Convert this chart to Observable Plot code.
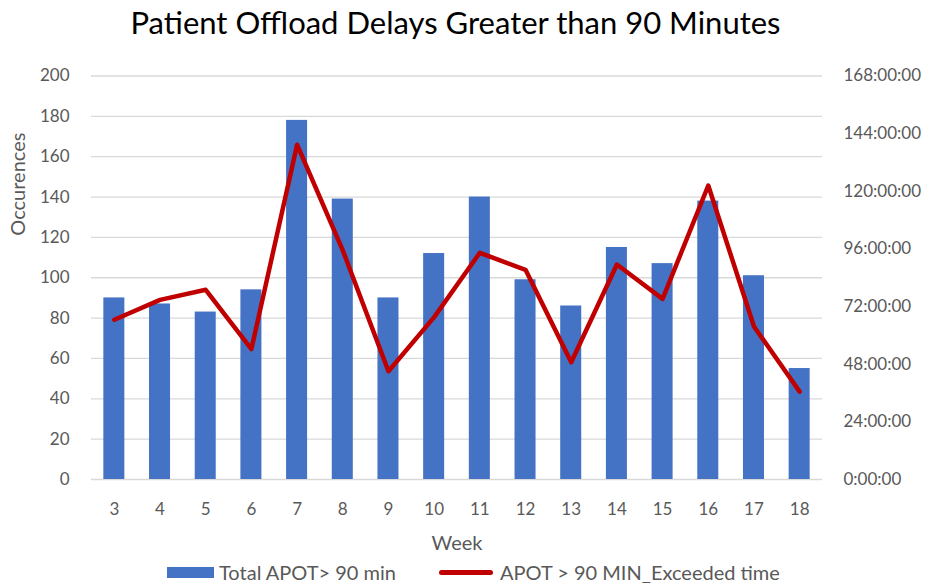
<!DOCTYPE html>
<html><head><meta charset="utf-8">
<script src="https://cdn.jsdelivr.net/npm/d3@7"></script>
<script src="https://cdn.jsdelivr.net/npm/@observablehq/plot@0.6"></script>
<style>
body{margin:0;background:#fff;font-family:Lato,sans-serif;width:935px;height:583px;overflow:hidden;}
#title{height:50px;line-height:44px;text-align:center;font-size:31px;color:#000;white-space:nowrap;padding-right:24px;}
#chart svg{display:block;}
#legend{height:21px;line-height:21px;display:flex;align-items:center;font-size:20px;color:#595959;white-space:nowrap;padding-left:167px;}
.sw-bar{display:inline-block;width:47px;height:11px;background:#4472C4;margin-right:5px;}
.sw-line{display:inline-block;width:54px;height:5px;border-radius:3px;background:#C00000;margin-right:7px;margin-left:43px;}
</style></head><body>
<div id="title">Patient Offload Delays Greater than 90 Minutes</div>
<div id="chart"></div>
<div id="legend"><span class="sw-bar"></span><span>Total APOT&gt; 90 min</span><span class="sw-line"></span><span>APOT &gt; 90 MIN_Exceeded time</span></div>
<script>
const weeks = [3,4,5,6,7,8,9,10,11,12,13,14,15,16,17,18];
const occurrences = [90,87,83,94,178,139,90,112,140,99,86,115,107,138,101,55];
const exceededHours = [66.5,74.8,79.0,54.3,139.4,95.4,45.1,67.6,94.4,87.3,48.8,89.5,75.2,122.4,63.7,36.6];
const leftTicks = [0,20,40,60,80,100,120,140,160,180,200];
const rightTicksHours = [0,24,48,72,96,120,144,168];
const rightTickLabels = ["0:00:00","24:00:00","48:00:00","72:00:00","96:00:00","120:00:00","144:00:00","168:00:00"];

const k = 200 / 168; // hours -> left-axis units
const data = weeks.map((w, i) => ({week: w, count: occurrences[i], hours: exceededHours[i]}));

const chart = Plot.plot({
  width: 935, height: 512,
  marginTop: 25.5, marginBottom: 83, marginLeft: 91, marginRight: 113,
  style: {fontFamily: "Lato, sans-serif", fontSize: "17px", color: "#595959", background: "#fff", overflow: "visible"},
  x: {type: "band", domain: weeks, paddingInner: 0.54, paddingOuter: 0.27, round: false, label: null},
  y: {domain: [0, 200], label: null},
  marks: [
    Plot.gridY(leftTicks, {stroke: "#d9d9d9", strokeOpacity: 1, strokeWidth: 1.3}),
    Plot.axisY(leftTicks, {anchor: "left", tickSize: 0, tickPadding: 22, label: null, fill: "#595959"}),
    Plot.axisY(rightTicksHours.map(h => h * k), {anchor: "right", tickSize: 0, tickPadding: 21, label: null, fill: "#595959",
      tickFormat: d => rightTickLabels[rightTicksHours.indexOf(Math.round(d / k))]}),
    Plot.axisX({tickSize: 0, tickPadding: 23, label: null, fill: "#595959"}),
    Plot.barY(data, {x: "week", y: "count", fill: "#4472C4"}),
    Plot.lineY(data, {x: "week", y: d => d.hours * k, stroke: "#C00000", strokeWidth: 4.5, strokeLinejoin: "round", strokeLinecap: "round"}),
    Plot.text(["Week"], {frameAnchor: "bottom", dy: 64, lineAnchor: "middle", fontSize: 20, fill: "#595959"}),
    Plot.text(["Occurences"], {frameAnchor: "left", dx: -73, dy: -42, rotate: -90, lineAnchor: "middle", fontSize: 20, fill: "#595959"})
  ]
});
document.getElementById("chart").appendChild(chart);
</script>
</body></html>
